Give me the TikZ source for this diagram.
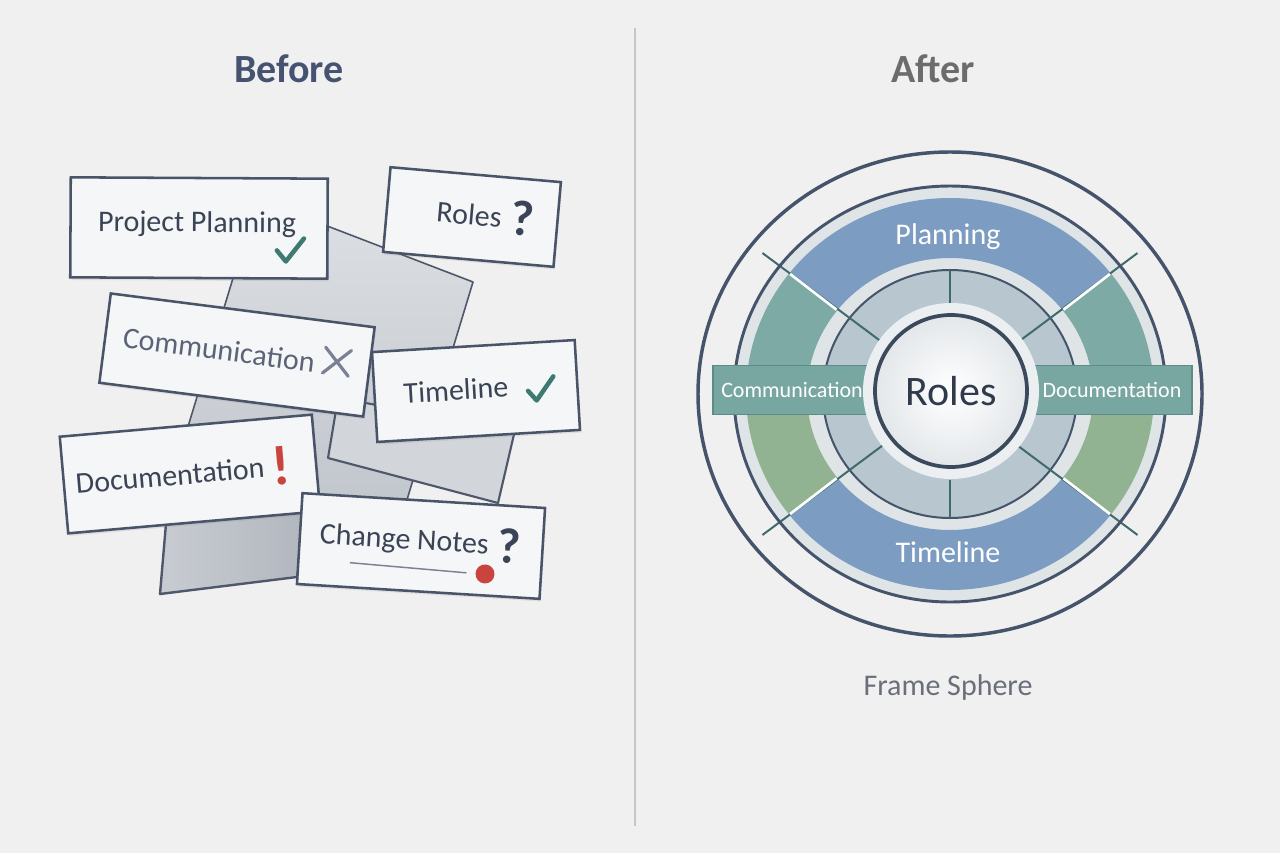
\documentclass[tikz,border=0pt]{standalone}
\usepackage{fontspec}
\setmainfont{Carlito}
\usetikzlibrary{shadows}
\definecolor{bgc}{HTML}{F0F0F0}
\definecolor{cardfill}{HTML}{F5F6F7}
\definecolor{cardline}{HTML}{4A5468}
\definecolor{ink}{HTML}{3A4456}
\definecolor{inksoft}{HTML}{5B6377}
\definecolor{chkc}{HTML}{3E7A72}
\definecolor{xc}{HTML}{7A8095}
\definecolor{redc}{HTML}{C8443C}
\definecolor{paperA}{HTML}{DDE0E4}
\definecolor{paperAb}{HTML}{BCC1C8}
\definecolor{paperD}{HTML}{D2D5DA}
\definecolor{paperC}{HTML}{B1B6BE}
\definecolor{paperCl}{HTML}{C8CCD2}
\definecolor{paperline}{HTML}{4F586B}
\definecolor{beforec}{HTML}{465370}
\definecolor{afterc}{HTML}{6C6C6C}
\definecolor{divc}{HTML}{C6C6C6}
\definecolor{ringc}{HTML}{45536B}
\definecolor{lightband}{HTML}{DFE4E7}
\definecolor{bluec}{HTML}{7C9DC1}
\definecolor{tealc}{HTML}{7EAAA5}
\definecolor{greenc}{HTML}{92B392}
\definecolor{grayring}{HTML}{B8C6CF}
\definecolor{haloc}{HTML}{ECEFF1}
\definecolor{sepc}{HTML}{3F6B6C}
\definecolor{bannerc}{HTML}{78A7A1}
\definecolor{bannerline}{HTML}{5C8C87}
\definecolor{rolesline}{HTML}{3A4A5C}
\definecolor{rolesink}{HTML}{2F3A4C}
\definecolor{rolesout}{HTML}{E3E7EA}
\definecolor{framec}{HTML}{6A6F7A}
\newcommand\bandsec[3]{%
  \fill[#1] ([shift={(#2:204 and 196)}]C) arc[start angle=#2,end angle=#3,x radius=204,y radius=196]
    -- ([shift={(#3:143 and 136)}]C) arc[start angle=#3,end angle=#2,x radius=143,y radius=136] -- cycle;}
\begin{document}
\begin{tikzpicture}[x=0.75pt,y=-0.75pt,
  card/.style 2 args={draw=cardline,line width=1.9pt,fill=cardfill,rectangle,inner sep=0pt,
    minimum width=#1*0.75pt,minimum height=#2*0.75pt,
    drop shadow={shadow xshift=1pt,shadow yshift=-2pt,opacity=0.15}},
  lbl/.style={text=ink,font=\fontsize{22.5}{27}\selectfont,anchor=base,inner sep=0pt},
  sym/.style={font=\fontsize{37.5}{42}\selectfont\bfseries,anchor=base,inner sep=0pt},
  chk/.style={draw=chkc,line width=3.4pt,line cap=round,line join=round},
  xmk/.style={draw=xc,line width=2.4pt,line cap=round},
  title/.style={font=\fontsize{30}{36}\selectfont\bfseries,anchor=base,inner sep=0pt},
  bandlbl/.style={text=white,font=\fontsize{22.5}{27}\selectfont,anchor=base,inner sep=0pt},
  bannerlbl/.style={text=white,font=\fontsize{16.5}{20}\selectfont,anchor=base,inner sep=0pt},
  banner/.style={fill=bannerc,draw=bannerline,line width=1pt,rectangle,inner sep=0pt,minimum height=49*0.75pt},
  sepline/.style={draw=sepc,line width=1.5pt},
  wline/.style={draw=white,line width=2pt},
]
\fill[bgc] (0,0) rectangle (1280,853);
\useasboundingbox (0,0) rectangle (1280,853);

% titles and divider
\node[title,text=beforec] (tbefore) at (289,82) {Before};
\node[title,text=afterc] (tafter) at (933,82) {After};
\draw[divc,line width=1.5pt] (635,28) -- (635,826);

% papers behind
\shade[top color=paperA,bottom color=paperAb] (257,199) -- (473,282) -- (386,569) -- (170,486) -- cycle;
\draw[paperline,line width=1.2pt,line join=round] (257,199) -- (473,282) -- (386,569) -- (170,486) -- cycle;
\fill[paperD] (338,398) -- (515,430) -- (498,503) -- (328,458) -- cycle;
\draw[paperline,line width=1.6pt,line join=round] (338,398) -- (515,430) -- (498,503) -- (328,458) -- cycle;
\shade[left color=paperCl,right color=paperC] (168,500) -- (312,500) -- (297,577) -- (160,594) -- cycle;
\draw[paperline,line width=1.8pt,line join=round] (168,500) -- (312,500) -- (297,577) -- (160,594) -- cycle;

% Roles card
\begin{scope}[shift={(472,217)},rotate=-5,transform shape]
  \node[card={171}{85}] (croles) at (0,0) {};
  \node[lbl] (troles) at (-3,8) {Roles};
  \node[sym,text=ink] (qroles) at (50,14) {?};
\end{scope}
% Project Planning card
\begin{scope}[shift={(199,228)},rotate=-0.3,transform shape]
  \node[card={257}{100}] (cpp) at (0,0) {};
  \node[lbl] (tpp) at (-2,4) {Project Planning};
  \draw[chk] (78,22) -- (87,33) -- (105,10);
\end{scope}
% Timeline card
\begin{scope}[shift={(476,391)},rotate=3.4,transform shape]
  \node[card={203}{90}] (ctime) at (0,0) {};
  \node[lbl] (ttime) at (-20,8) {Timeline};
  \draw[chk] (52,3) -- (60,13) -- (78,-10);
\end{scope}
% Communication card
\begin{scope}[shift={(237,355)},rotate=-7.3,transform shape]
  \node[card={266}{90}] (ccomm) at (0,0) {};
  \node[lbl,text=inksoft] (tcomm) at (-18.5,7.3) {Communication};
  \draw[xmk] (87,-19) -- (113,7);
  \draw[xmk] (113,-19) -- (87,7);
\end{scope}
% Documentation card
\begin{scope}[shift={(190,474)},rotate=5,transform shape]
  \node[card={253}{97}] (cdoc) at (0,0) {};
  \node[lbl] (tdoc) at (-20,10) {Documentation};
  \node[sym,text=redc,font=\fontsize{42}{46}\selectfont\bfseries] (edoc) at (91,19) {!};
\end{scope}
% Change Notes card
\begin{scope}[shift={(421,546)},rotate=-3.5,transform shape]
  \node[card={243}{91}] (cchg) at (0,0) {};
  \node[lbl] (tchg) at (-17,4) {Change Notes};
  \node[sym,text=ink] (qchg) at (88,12) {?};
  \draw[draw=xc,line width=1.1pt] (-70,21) -- (47,24);
  \fill[redc] (65.6,24) circle [radius=9.5];
\end{scope}

% ---------- After: frame sphere ----------
\coordinate (C) at (950,394);
\fill[lightband] (C) ellipse [x radius=216,y radius=208];
\bandsec{bluec}{218}{322}
\bandsec{bluec}{38}{142}
\bandsec{tealc}{180}{218}
\bandsec{greenc}{142}{180}
\bandsec{tealc}{322}{360}
\bandsec{greenc}{0}{38}
\fill[grayring] (C) ellipse [x radius=127,y radius=124];
\draw[ringc,line width=1.5pt] (C) ellipse [x radius=127,y radius=124];
\foreach \a in {38,142,218,322} {
  \draw[sepline] ([shift={(\a:86 and 84)}]C) -- ([shift={(\a:238 and 229)}]C);
  \draw[wline] ([shift={(\a:144 and 137)}]C) -- ([shift={(\a:203 and 195)}]C);
}
\foreach \a in {90,270}
  \draw[sepline] ([shift={(\a:88 and 86)}]C) -- ([shift={(\a:127 and 124)}]C);
\draw[ringc,line width=2.2pt] (C) ellipse [x radius=216,y radius=208];
\draw[ringc,line width=2.6pt] (C) ellipse [x radius=252,y radius=242];

\node[banner,minimum width=165*0.75pt] (bcomm) at (795.5,390) {};
\node[banner,minimum width=170*0.75pt] (bdoc) at (1107,390) {};
\fill[haloc] (951,391) circle [radius=88];

\node[circle,minimum size=152*0.75pt,inner sep=0pt,draw=rolesline,line width=2.8pt,
  inner color=white,outer color=rolesout,text=rolesink,
  font=\fontsize{31.5}{36}\selectfont] (roles) at (951,391) {Roles};
\node[bannerlbl] (lcomm) at (792,397) {Communication};
\node[bannerlbl] (ldoc) at (1112,397) {Documentation};

\node[bandlbl] (lplan) at (948,244) {Planning};
\node[bandlbl] (ltime) at (948,562) {Timeline};
\node[text=framec,font=\fontsize{22.5}{27}\selectfont,anchor=base,inner sep=0pt] (lframe) at (948,695) {Frame Sphere};
\end{tikzpicture}
\end{document}
